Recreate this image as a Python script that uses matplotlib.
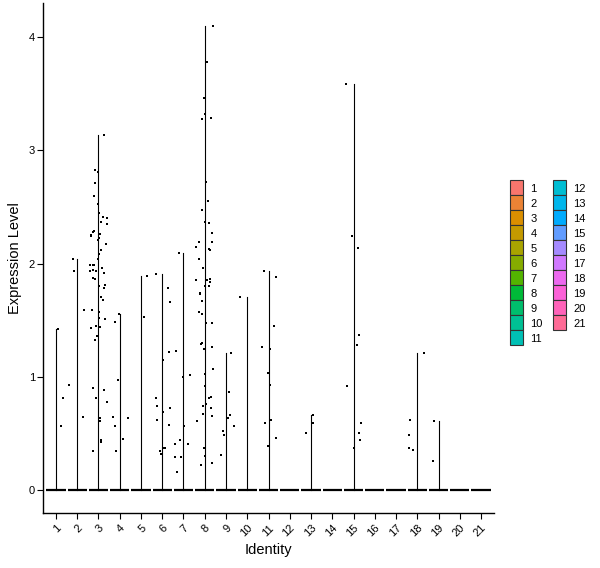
import numpy as np
import matplotlib
matplotlib.use("Agg")
import matplotlib.pyplot as plt
from matplotlib.patches import Patch

plt.rcParams['font.family'] = ['Liberation Sans', 'DejaVu Sans']

# identities 1..21
identities = [str(i) for i in range(1, 22)]

# non-zero expression values per identity (everything else sits at 0)
expr_1 = [1.42, 0.81, 0.56]
expr_2 = [2.04, 1.93, 1.59, 0.93, 0.64]
expr_3 = [3.14, 2.81, 2.83, 2.71, 2.60, 2.53, 2.45, 2.45, 2.40, 2.41, 2.37, 2.35,
          2.29, 2.28, 2.26, 2.25, 2.24, 2.23, 2.21, 2.17, 2.12, 2.08, 2.04, 1.99,
          1.99, 1.99, 1.96, 1.94, 1.93, 1.93, 1.92, 1.87, 1.86, 1.81, 1.80, 1.78,
          1.70, 1.68, 1.59, 1.57, 1.52, 1.51, 1.45, 1.44, 1.43, 1.36, 1.32, 0.90,
          0.88, 0.81, 0.78, 0.63, 0.61, 0.44, 0.42, 0.34]
expr_4 = [1.55, 1.48, 0.97, 0.64, 0.63, 0.56, 0.45, 0.34]
expr_5 = [1.89, 1.53]
expr_6 = [1.91, 1.78, 1.66, 1.22, 1.15, 0.81, 0.74, 0.72, 0.69, 0.62, 0.57,
          0.37, 0.37, 0.34, 0.32]
expr_7 = [2.09, 1.23, 1.01, 1.00, 0.56, 0.44, 0.40, 0.40, 0.29, 0.29, 0.16]
expr_8 = [4.10, 3.78, 3.46, 3.32, 3.29, 3.28, 2.72, 2.55, 2.47, 2.37, 2.36, 2.27,
          2.19, 2.19, 2.15, 2.13, 2.12, 2.04, 1.96, 1.86, 1.85, 1.85, 1.84, 1.80,
          1.80, 1.74, 1.73, 1.67, 1.57, 1.55, 1.47, 1.47, 1.30, 1.29, 1.26, 1.24,
          1.07, 1.02, 0.92, 0.82, 0.81, 0.76, 0.74, 0.72, 0.67, 0.65, 0.61, 0.37,
          0.30, 0.24, 0.22]
expr_9 = [1.21, 0.86, 0.66, 0.63, 0.56, 0.52, 0.48, 0.31]
expr_10 = [1.70]
expr_11 = [1.93, 1.88, 1.45, 1.26, 1.24, 1.03, 0.93, 0.62, 0.59, 0.46, 0.39]
expr_13 = [0.66, 0.59, 0.50]
expr_15 = [3.59, 2.24, 2.14, 1.37, 1.28, 0.92, 0.59, 0.50, 0.44, 0.37]
expr_18 = [1.21, 0.62, 0.48, 0.37, 0.35]
expr_19 = [0.61, 0.25]

values = [expr_1, expr_2, expr_3, expr_4, expr_5, expr_6, expr_7, expr_8, expr_9,
          expr_10, expr_11, [], expr_13, [], expr_15, [], [], expr_18, expr_19, [], []]


# ggplot-like hue palette (HCL, l=65, c=100)
def hcl_to_hex(h, c=100, l=65):
    hr = np.deg2rad(h)
    u, v = c * np.cos(hr), c * np.sin(hr)
    xn, yn, zn = 95.047, 100.0, 108.883
    y = yn * ((l + 16) / 116) ** 3 if l > 8 else yn * l / 903.3
    un = 4 * xn / (xn + 15 * yn + 3 * zn)
    vn = 9 * yn / (xn + 15 * yn + 3 * zn)
    up = u / (13 * l) + un
    vp = v / (13 * l) + vn
    x = 9 * y * up / (4 * vp)
    z = y * (12 - 3 * up - 20 * vp) / (4 * vp)
    xyz = np.array([x, y, z]) / 100
    m = np.array([[3.2404542, -1.5371385, -0.4985314],
                  [-0.9692660, 1.8760108, 0.0415560],
                  [0.0556434, -0.2040259, 1.0572252]])
    rgb = m @ xyz
    rgb = np.where(rgb <= 0.0031308, 12.92 * rgb, 1.055 * np.clip(rgb, 0, None) ** (1 / 2.4) - 0.055)
    return tuple(np.clip(rgb, 0, 1))


hues = np.linspace(15, 375, len(identities) + 1)[:-1]
colors = [hcl_to_hex(h) for h in hues]

fig = plt.figure(figsize=(6, 5.68), dpi=100)
ax = fig.add_axes([0.072, 0.097, 0.751, 0.898])

rng = np.random.default_rng(7)
for i, vals in enumerate(values):
    pos = i + 1
    # flat violin at zero
    ax.plot([pos - 0.45, pos + 0.45], [0, 0], color='black', lw=1.6, solid_capstyle='butt', zorder=2)
    if vals:
        ax.plot([pos, pos], [0, max(vals)], color='black', lw=0.8, zorder=2)
        jitter = rng.uniform(-0.4, 0.4, len(vals))
        ax.scatter(pos + jitter, vals, s=4, marker='s', color='black', linewidths=0, zorder=3)

ax.set_xlim(0.4, 21.6)
ax.set_ylim(-0.205, 4.305)
ax.set_xticks(range(1, 22))
ax.set_xticklabels(identities, rotation=45, ha='right', rotation_mode='anchor')
ax.set_yticks([0, 1, 2, 3, 4])
ax.tick_params(labelsize=8, length=4, width=0.8, color='black', labelcolor='black', pad=2)
ax.tick_params(axis='x', pad=3)
ax.set_xlabel('Identity', fontsize=10.5, labelpad=3)
ax.set_ylabel('Expression Level', fontsize=10.5, labelpad=5)
for side in ['top', 'right']:
    ax.spines[side].set_visible(False)
for side in ['left', 'bottom']:
    ax.spines[side].set_linewidth(1.0)

handles = [Patch(facecolor=c, edgecolor='#333333', lw=0.8) for c in colors]
fig.legend(handles, identities, ncol=2, loc='center left', bbox_to_anchor=(0.84, 0.537),
           frameon=False, fontsize=8, handlelength=1.17, handleheight=1.7,
           labelspacing=0.0, handletextpad=0.7, columnspacing=0.9, borderpad=0)

plt.savefig('out.png', dpi=100)
